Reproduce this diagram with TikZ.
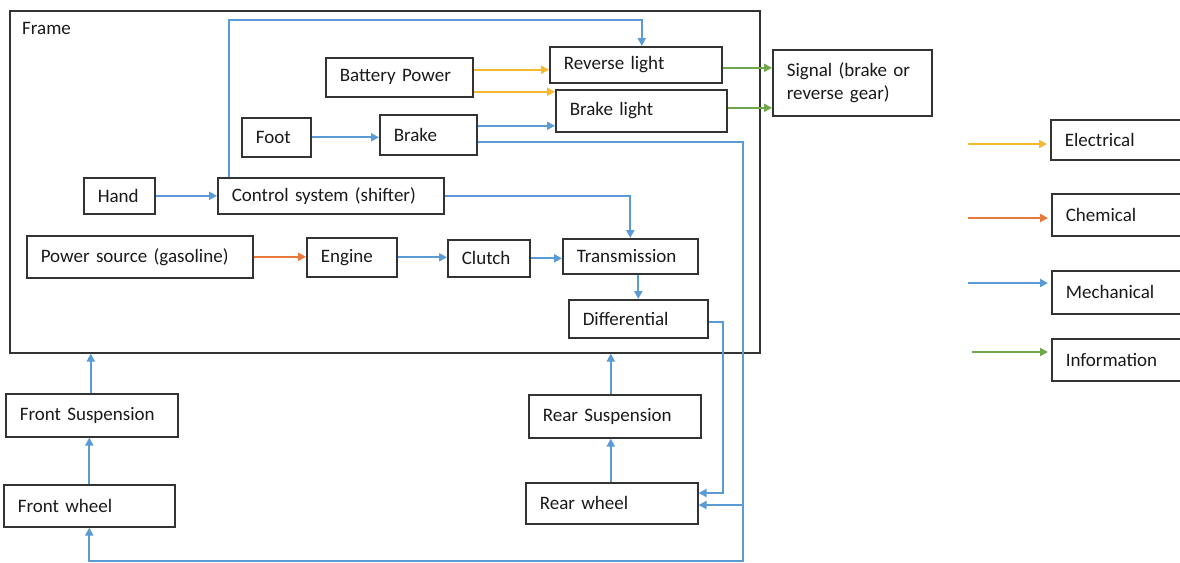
\documentclass[tikz,border=0pt]{standalone}
\usepackage{fontspec}
\setmainfont{Carlito}
\usetikzlibrary{arrows.meta,calc}
\definecolor{elecC}{HTML}{F5B82E}
\definecolor{chemC}{HTML}{E8793A}
\definecolor{mechC}{HTML}{5B9BD5}
\definecolor{infoC}{HTML}{6FA84A}
\definecolor{edgeC}{HTML}{333333}
\definecolor{txtC}{HTML}{1A1A1A}
\newcommand\mkbox[6]{%
  \pgfmathsetmacro\bxtw{#4-#2-28}%
  \node[bx, text width=\bxtw pt, minimum height={#5-#3}] (#1) at (#2,#3) {#6};}
\begin{document}
\begin{tikzpicture}[x=1pt,y=-1pt,
  every node/.style={font=\fontsize{19}{23}\selectfont, text=txtC},
  bx/.style={draw=edgeC, line width=1.6pt, anchor=north west, align=left,
    inner xsep=14pt, inner ysep=0pt, fill=white},
  framebox/.style={draw=edgeC, line width=1.6pt, anchor=north west, inner sep=0pt},
  con/.style={line width=2.2pt, -{Triangle[length=8pt,width=8pt]}},
  mech/.style={con, draw=mechC, mechC},
  elec/.style={con, draw=elecC, elecC},
  chem/.style={con, draw=chemC, chemC},
  info/.style={con, draw=infoC, infoC}]
\useasboundingbox (0,0) rectangle (1180,562);
\clip (0,0) rectangle (1180,562);
\fill[white] (0,0) rectangle (1180,562);

% frame
\node[framebox, minimum width=750pt, minimum height=342pt] (frame) at (9,10) {};
\node[anchor=west, inner sep=0pt] (framelbl) at (22,28) {Frame};

% boxes
\mkbox{battery}{325}{57}{472}{96}{Battery Power}
\mkbox{rlight}{549}{46}{721}{82}{Reverse light}
\mkbox{blight}{555}{89}{726}{131}{Brake light}
\mkbox{brake}{379}{114}{476}{154}{Brake}
\mkbox{foot}{241}{117}{310}{156}{Foot}
\mkbox{hand}{83}{177}{154}{213}{Hand}
\mkbox{ctrl}{217}{177}{443}{213}{Control system (shifter)}
\mkbox{power}{26}{235}{252}{277}{Power source (gasoline)}
\mkbox{engine}{306}{237}{396}{276}{Engine}
\mkbox{clutch}{447}{239}{529}{276}{Clutch}
\mkbox{trans}{562}{238}{697}{273}{Transmission}
\mkbox{diff}{568}{299}{707}{337}{Differential}
\mkbox{signal}{772}{49}{931}{115}{Signal (brake or\\reverse gear)}
\mkbox{fsusp}{5}{393}{177}{436}{Front Suspension}
\mkbox{fwheel}{3}{484}{174}{526}{Front wheel}
\mkbox{rsusp}{528}{394}{700}{437}{Rear Suspension}
\mkbox{rwheel}{525}{482}{697}{523}{Rear wheel}

% legend
\mkbox{lelec}{1050}{119}{1200}{159}{Electrical}
\mkbox{lchem}{1051}{193}{1200}{235}{Chemical}
\mkbox{lmech}{1051}{270}{1200}{313}{Mechanical}
\mkbox{linfo}{1051}{338}{1200}{380}{Information}

\coordinate (le) at (968,144);
\coordinate (lc) at (968,218);
\coordinate (lm) at (968,283);
\coordinate (li) at (972,352);
\draw[elec, shorten >=3pt] (le) -- (le -| lelec.west);
\draw[chem, shorten >=3pt] (lc) -- (lc -| lchem.west);
\draw[mech, shorten >=3pt] (lm) -- (lm -| lmech.west);
\draw[info, shorten >=3pt] (li) -- (li -| linfo.west);

% connectors inside frame
\draw[mech] (hand.east) -- (hand.east -| ctrl.west);
\draw[mech] (foot.east) -- (foot.east -| brake.west);
\draw[mech] ([yshift=9pt]brake.east) -- ([yshift=9pt]brake.east -| blight.west);
\draw[elec] ([yshift=7.5pt]battery.east) -- ([yshift=7.5pt]battery.east -| rlight.west);
\draw[elec] ([yshift=-14.5pt]battery.east) -- ([yshift=-14.5pt]battery.east -| blight.west);
\draw[info] ([yshift=-3pt]rlight.east) -- ([yshift=-3pt]rlight.east -| signal.west);
\draw[info] ([yshift=3pt]blight.east) -- ([yshift=3pt]blight.east -| signal.west);
\coordinate (ctop) at (400,20);
\draw[mech] ([xshift=12pt]ctrl.north west) |- (ctop) -| ([xshift=6pt]rlight.north);
\draw[mech] (ctrl.east) -| (trans.north);
\draw[chem] (power.east) -- (power.east -| engine.west);
\draw[mech] (engine.east) -- (engine.east -| clutch.west);
\draw[mech] (clutch.east) -- (clutch.east -| trans.west);
\draw[mech] (diff.north |- trans.south) -- (diff.north);

% differential to rear wheel
\coordinate (d1) at (723,493);
\draw[mech] ([yshift=-3pt]diff.east) -| (d1) -- (d1 -| rwheel.east);

% brake to wheels
\coordinate (b1) at (743,561);
\coordinate (b2) at (743,505);
\draw[mech] ([yshift=-7pt]brake.east) -| (b1) -| (fwheel.south);
\draw[mech] (b2) -- (b2 -| rwheel.east);

% suspensions
\draw[mech] (fwheel.north) -- (fwheel.north |- fsusp.south);
\draw[mech] ([xshift=-1pt]fsusp.north) -- ([xshift=-1pt]fsusp.north |- frame.south);
\draw[mech] ([xshift=-1pt]rwheel.north) -- ([xshift=-1pt]rwheel.north |- rsusp.south);
\draw[mech] ([xshift=-4pt]rsusp.north) -- ([xshift=-4pt]rsusp.north |- frame.south);
\end{tikzpicture}
\end{document}
